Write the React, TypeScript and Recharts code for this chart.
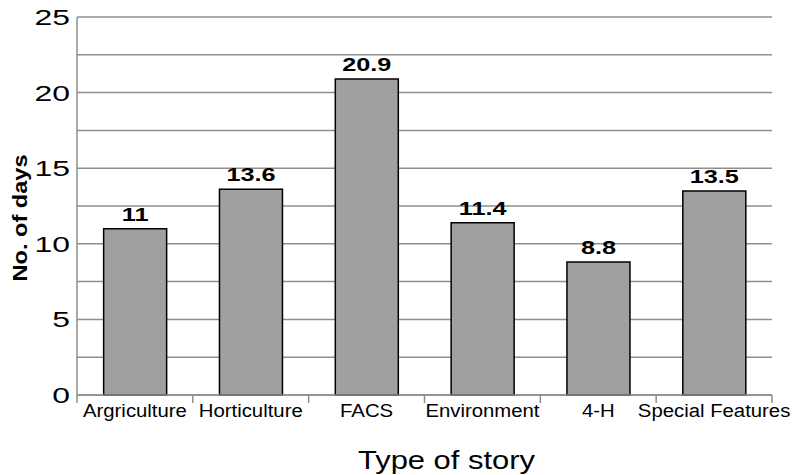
import { Bar, BarChart, CartesianGrid, Label, LabelList, XAxis, YAxis } from "recharts";

const categories = ["Argriculture", "Horticulture", "FACS", "Environment", "4-H", "Special Features"];
const days = [11, 13.6, 20.9, 11.4, 8.8, 13.5];
const yTicks = [0, 2.5, 5, 7.5, 10, 12.5, 15, 17.5, 20, 22.5, 25];

const CHART_W = 797;
const CHART_H = 475;
const Y_W = 77;
const X_H = 80;
const MARGIN = { top: 17, right: 25, left: 0, bottom: 0 };
const GRID = "#8e8e8e";

const data = categories.map((name, i) => ({ name, days: days[i] }));

// the source chart's lettering is wide, so text gets stretched horizontally
function WideText({ x, y, sx, anchor = "middle", size, bold, rotate, dy, children }: any) {
  const t = `translate(${x},${y})${rotate ? ` rotate(${rotate})` : ""} scale(${sx},1)`;
  return (
    <text
      transform={t}
      dy={dy}
      textAnchor={anchor}
      fontSize={size}
      fontWeight={bold ? "bold" : "normal"}
      fill="#000"
    >
      {children}
    </text>
  );
}

function XTick(props: any) {
  const { x, y, payload, index } = props;
  const band = (CHART_W - Y_W - MARGIN.right) / categories.length;
  const last = index === categories.length - 1;
  return (
    <g>
      <line x1={x - band / 2} x2={x - band / 2} y1={y} y2={y + 8} stroke={GRID} strokeWidth={1.5} />
      {last && <line x1={x + band / 2} x2={x + band / 2} y1={y} y2={y + 8} stroke={GRID} strokeWidth={1.5} />}
      <WideText x={x} y={y + 22} sx={1.13} size={18}>
        {payload.value}
      </WideText>
    </g>
  );
}

function YTick(props: any) {
  const { x, y, payload } = props;
  if (payload.value % 5 !== 0) return <g />;
  return (
    <WideText x={x - 7} y={y} dy="0.36em" anchor="end" sx={1.45} size={22}>
      {payload.value}
    </WideText>
  );
}

function ValueLabel(props: any) {
  const { x, y, width, value } = props;
  return (
    <WideText x={x + width / 2} y={y - 8} sx={1.33} size={19} bold>
      {value}
    </WideText>
  );
}

export default function App() {
  return (
    <div
      style={{
        position: "absolute",
        left: 0,
        top: 0,
        width: CHART_W,
        height: CHART_H,
        background: "#fff",
        fontFamily: '"Liberation Sans", Arial, sans-serif',
      }}
    >
      <BarChart width={CHART_W} height={CHART_H} data={data} margin={MARGIN} barCategoryGap="23%">
        <CartesianGrid vertical={false} stroke={GRID} strokeWidth={1.5} yAxisId="l" />
        <XAxis
          dataKey="name"
          height={X_H}
          tickSize={0}
          tickMargin={0}
          tickLine={false}
          axisLine={{ stroke: GRID, strokeWidth: 1.5 }}
          tick={<XTick />}
          interval={0}
        >
          <Label
            content={({ viewBox }: any) => (
              <WideText x={viewBox.x + viewBox.width / 2 + 22} y={viewBox.y + 74} sx={1.19} size={26}>
                Type of story
              </WideText>
            )}
          />
        </XAxis>
        <YAxis
          yAxisId="l"
          width={Y_W}
          domain={[0, 25]}
          ticks={yTicks}
          interval={0}
          tickSize={0}
          tickMargin={0}
          tickLine={false}
          axisLine={{ stroke: GRID, strokeWidth: 1.5 }}
          tick={<YTick />}
        >
          <Label
            content={({ viewBox }: any) => (
              <WideText
                x={20}
                y={viewBox.y + viewBox.height / 2 + 12}
                rotate={-90}
                dy="0.35em"
                sx={1.18}
                size={20}
                bold
              >
                No. of days
              </WideText>
            )}
          />
        </YAxis>
        <YAxis
          yAxisId="r"
          orientation="right"
          width={0}
          tick={false}
          tickLine={false}
          axisLine={{ stroke: GRID, strokeWidth: 1.5 }}
        />
        <Bar
          yAxisId="l"
          dataKey="days"
          fill="#a0a0a0"
          stroke="#000"
          strokeWidth={1.5}
          isAnimationActive={false}
        >
          <LabelList dataKey="days" content={<ValueLabel />} />
        </Bar>
      </BarChart>
    </div>
  );
}
